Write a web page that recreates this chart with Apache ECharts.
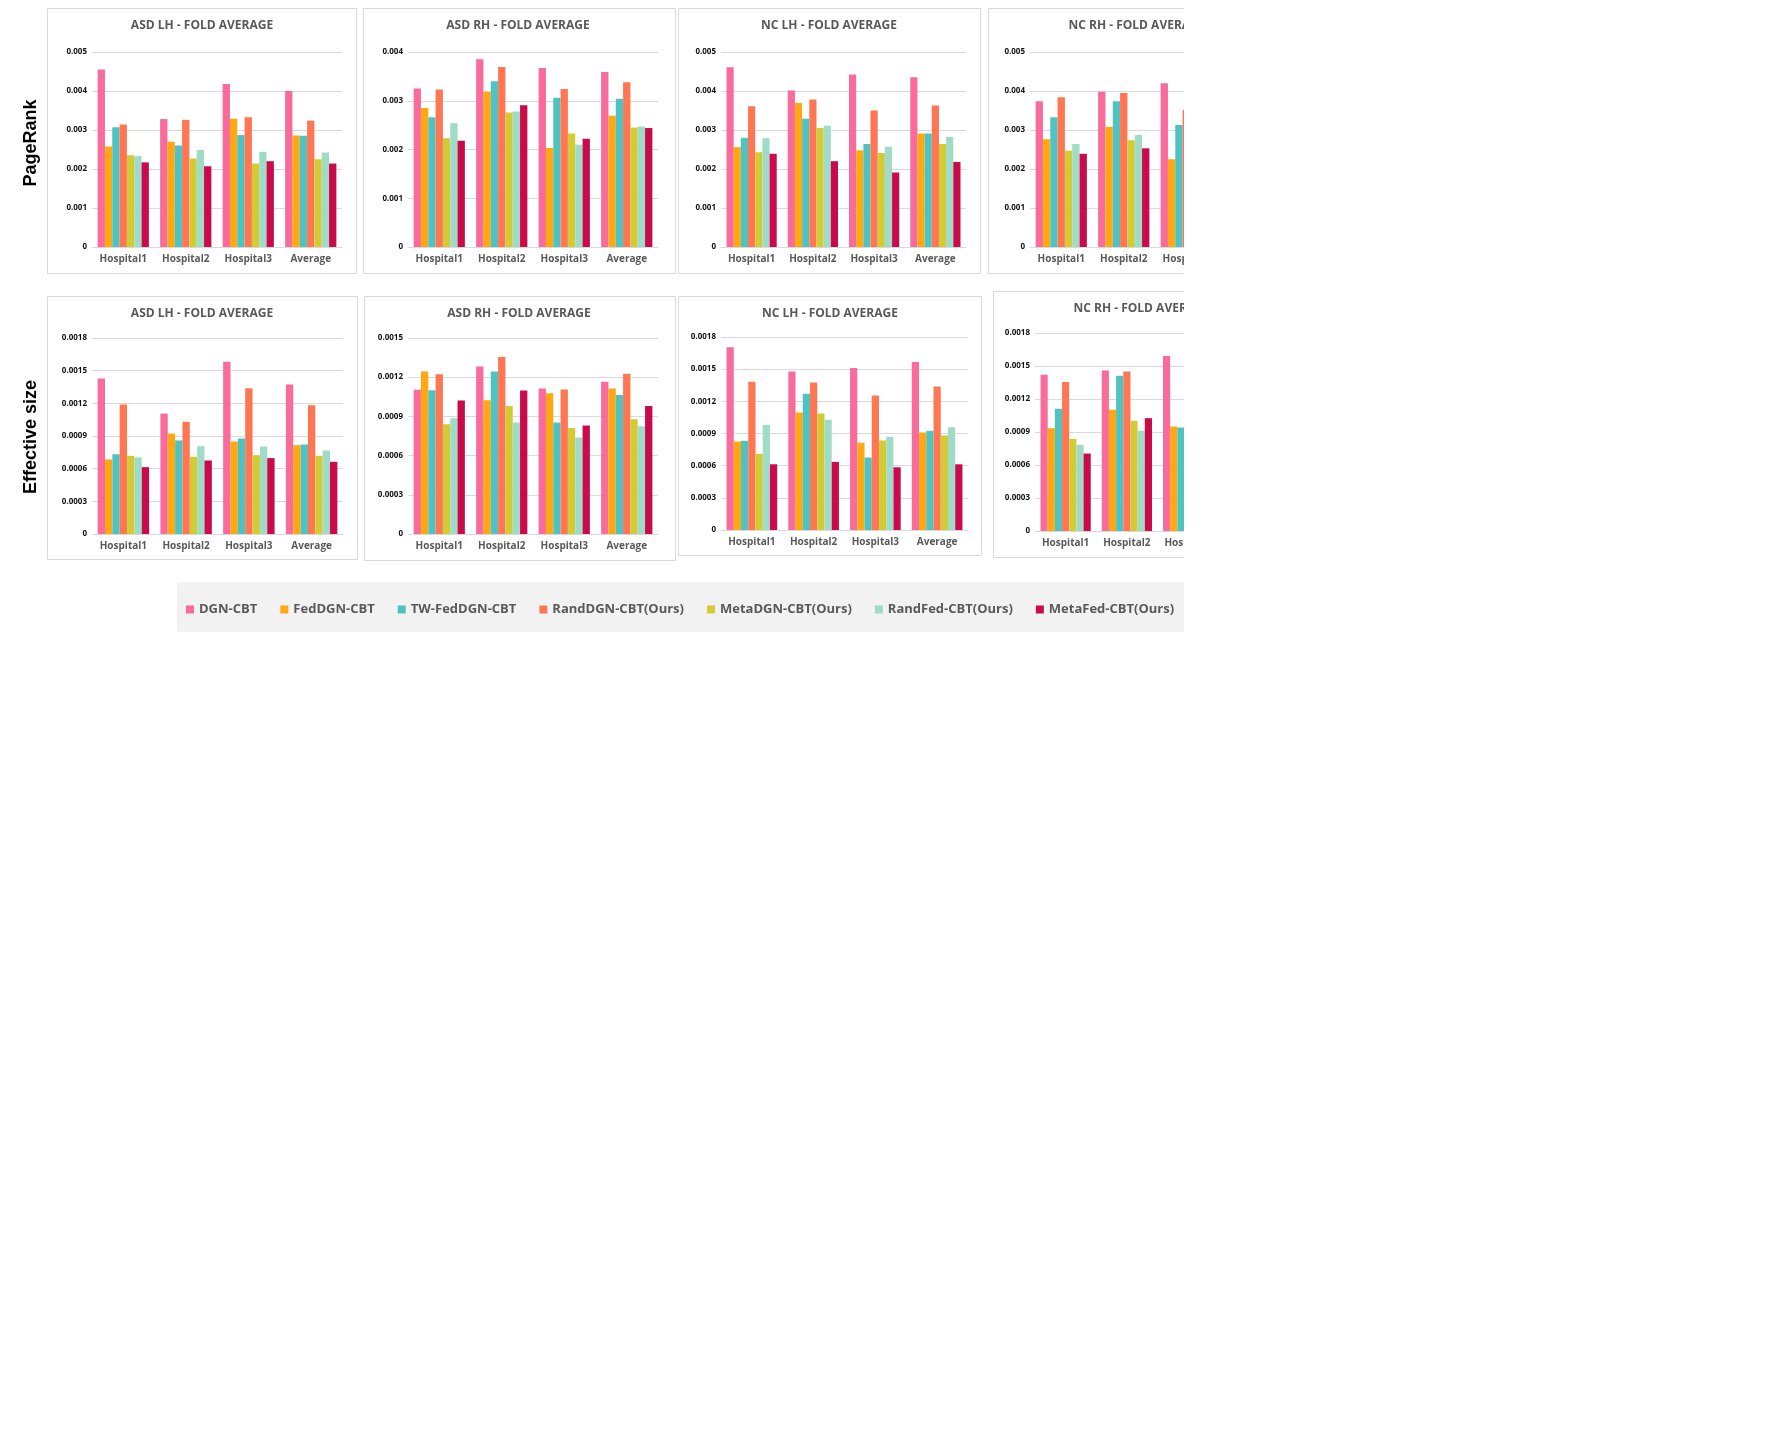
<!DOCTYPE html>
<html>
<head>
<meta charset="utf-8">
<script src="https://cdn.jsdelivr.net/npm/echarts@6/dist/echarts.min.js"></script>
<style>
html, body { margin: 0; padding: 0; background: #fff; }
#clip { width: 1184px; height: 1433px; overflow: hidden; }
#chart { width: 1320px; height: 1433px; }
</style>
</head>
<body>
<div id="clip"><div id="chart"></div></div>
<script>
// categories / methods
var categories = ['Hospital1', 'Hospital2', 'Hospital3', 'Average'];
var methods = ['DGN-CBT', 'FedDGN-CBT', 'TW-FedDGN-CBT', 'RandDGN-CBT(Ours)', 'MetaDGN-CBT(Ours)', 'RandFed-CBT(Ours)', 'MetaFed-CBT(Ours)'];
var colors = ['#F86B9B', '#FFA812', '#4FC3C2', '#FF7653', '#D3CB36', '#9FDCC7', '#CA0B4B'];

// PageRank, one row per method (Hospital1, Hospital2, Hospital3, Average)
var prAsdLh = [
    [0.00455, 0.00328, 0.00418, 0.00400],
    [0.00258, 0.00270, 0.00329, 0.00286],
    [0.00307, 0.00260, 0.00287, 0.00285],
    [0.00314, 0.00326, 0.00333, 0.00324],
    [0.00235, 0.00227, 0.00214, 0.00225],
    [0.00233, 0.00249, 0.00244, 0.00242],
    [0.00217, 0.00207, 0.00220, 0.00214]
];
var prAsdRh = [
    [0.00325, 0.00385, 0.00367, 0.00359],
    [0.00285, 0.00319, 0.00203, 0.00269],
    [0.00266, 0.00340, 0.00306, 0.00304],
    [0.00323, 0.00369, 0.00324, 0.00338],
    [0.00223, 0.00276, 0.00233, 0.00245],
    [0.00254, 0.00278, 0.00210, 0.00247],
    [0.00218, 0.00291, 0.00222, 0.00244]
];
var prNcLh = [
    [0.00461, 0.00401, 0.00442, 0.00435],
    [0.00256, 0.00369, 0.00248, 0.00291],
    [0.00280, 0.00329, 0.00264, 0.00291],
    [0.00361, 0.00378, 0.00350, 0.00363],
    [0.00243, 0.00305, 0.00241, 0.00264],
    [0.00279, 0.00311, 0.00257, 0.00282],
    [0.00239, 0.00220, 0.00191, 0.00218]
];
var prNcRh = [
    [0.00374, 0.00398, 0.00420, 0.00397],
    [0.00276, 0.00308, 0.00225, 0.00270],
    [0.00333, 0.00374, 0.00313, 0.00340],
    [0.00384, 0.00395, 0.00351, 0.00377],
    [0.00247, 0.00274, 0.00250, 0.00257],
    [0.00264, 0.00287, 0.00260, 0.00270],
    [0.00239, 0.00253, 0.00220, 0.00237]
];

// Effective size
var esAsdLh = [
    [0.001427, 0.001106, 0.001583, 0.001372],
    [0.000685, 0.000923, 0.000850, 0.000816],
    [0.000733, 0.000859, 0.000877, 0.000822],
    [0.001189, 0.001030, 0.001339, 0.001183],
    [0.000718, 0.000709, 0.000724, 0.000718],
    [0.000703, 0.000807, 0.000804, 0.000767],
    [0.000614, 0.000675, 0.000697, 0.000663]
];
var esAsdRh = [
    [0.001103, 0.001281, 0.001113, 0.001166],
    [0.001243, 0.001024, 0.001077, 0.001113],
    [0.001100, 0.001243, 0.000853, 0.001064],
    [0.001222, 0.001355, 0.001105, 0.001227],
    [0.000840, 0.000980, 0.000812, 0.000879],
    [0.000886, 0.000853, 0.000738, 0.000825],
    [0.001021, 0.001098, 0.000830, 0.000980]
];
var esNcLh = [
    [0.001704, 0.001479, 0.001510, 0.001567],
    [0.000825, 0.001096, 0.000813, 0.000909],
    [0.000832, 0.001271, 0.000676, 0.000925],
    [0.001383, 0.001376, 0.001255, 0.001339],
    [0.000710, 0.001087, 0.000835, 0.000881],
    [0.000981, 0.001028, 0.000870, 0.000959],
    [0.000613, 0.000635, 0.000585, 0.000613]
];
var esNcRh = [
    [0.001421, 0.001460, 0.001591, 0.001490],
    [0.000935, 0.001102, 0.000950, 0.001000],
    [0.001111, 0.001412, 0.000941, 0.001150],
    [0.001354, 0.001451, 0.001123, 0.001310],
    [0.000838, 0.001002, 0.000900, 0.000910],
    [0.000783, 0.000911, 0.000850, 0.000850],
    [0.000704, 0.001026, 0.000750, 0.000830]
];

// axis ranges [max, interval]
var prRange = [0.005, 0.001];
var prRangeAsdRh = [0.004, 0.001];
var esRange = [0.0018, 0.0003];
var esRangeAsdRh = [0.0015, 0.0003];

// panel layout: box = panel frame, grid = plot area, tx = title centre
var panels = [
    { title: 'ASD LH - FOLD AVERAGE', data: prAsdLh, range: prRange, box: [47, 8, 309, 265], grid: [92, 52, 250, 195], tx: 202 },
    { title: 'ASD RH - FOLD AVERAGE', data: prAsdRh, range: prRangeAsdRh, box: [363, 8, 312, 265], grid: [408, 52, 250, 195], tx: 518 },
    { title: 'NC LH - FOLD AVERAGE', data: prNcLh, range: prRange, box: [678, 8, 302, 265], grid: [721, 52, 245, 195], tx: 829 },
    { title: 'NC RH - FOLD AVERAGE', data: prNcRh, range: prRange, box: [988, 8, 312, 265], grid: [1030, 52, 250, 195], tx: 1137 },
    { title: 'ASD LH - FOLD AVERAGE', data: esAsdLh, range: esRange, box: [47, 296, 310, 263], grid: [92, 338, 251, 196], tx: 202 },
    { title: 'ASD RH - FOLD AVERAGE', data: esAsdRh, range: esRangeAsdRh, box: [364, 296, 311, 264], grid: [408, 338, 250, 196], tx: 519 },
    { title: 'NC LH - FOLD AVERAGE', data: esNcLh, range: esRange, box: [678, 296, 303, 259], grid: [721, 337, 247, 193], tx: 830 },
    { title: 'NC RH - FOLD AVERAGE', data: esNcRh, range: esRange, box: [993, 291, 307, 266], grid: [1035, 333, 245, 198], tx: 1142 }
];

var font = 'Open Sans';
var grids = [], xAxes = [], yAxes = [], titles = [], series = [];
var graphics = [];

//灰色图例背景
graphics.push({
    type: 'rect', z: -10,
    shape: { x: 177, y: 582, width: 1140, height: 50 },
    style: { fill: '#f2f2f2' }
});

for (var i = 0; i < panels.length; i++) {
    var p = panels[i];
    graphics.push({
        type: 'rect', z: -5,
        shape: { x: p.box[0] + 0.5, y: p.box[1] + 0.5, width: p.box[2], height: p.box[3] },
        style: { fill: '#fff', stroke: '#d9d9d9', lineWidth: 1 }
    });
    grids.push({ left: p.grid[0], top: p.grid[1], width: p.grid[2], height: p.grid[3] });
    titles.push({
        text: p.title,
        left: p.tx - 5,
        top: p.box[1] + 6,
        textAlign: 'center',
        textStyle: { fontFamily: font, fontSize: 12, fontWeight: 'bold', color: '#595959', lineHeight: 14 }
    });
    xAxes.push({
        type: 'category', gridIndex: i, data: categories,
        axisLine: { lineStyle: { color: '#d9d9d9' } },
        axisTick: { show: false },
        axisLabel: { interval: 0, color: '#595959', fontFamily: font, fontSize: 10, fontWeight: 'bold', margin: 7 }
    });
    yAxes.push({
        type: 'value', gridIndex: i, min: 0, max: p.range[0], interval: p.range[1],
        axisLine: { show: false },
        axisTick: { show: false },
        splitLine: { lineStyle: { color: '#d9d9d9', width: 1 } },
        axisLabel: {
            color: '#111', fontFamily: font, fontSize: 8, fontWeight: 'bold', margin: 5,
            formatter: function (v) { return v === 0 ? '0' : String(parseFloat(v.toFixed(6))); }
        }
    });
    for (var m = 0; m < methods.length; m++) {
        series.push({
            type: 'bar', name: methods[m],
            xAxisIndex: i, yAxisIndex: i,
            data: p.data[m],
            barGap: '0%', barCategoryGap: '18%',
            itemStyle: { color: colors[m] }
        });
    }
}

// row labels
graphics.push({
    type: 'text', x: 31, y: 143, rotation: Math.PI / 2,
    style: { text: 'PageRank', fill: '#000', font: 'bold 18px "Liberation Sans", Arial', textAlign: 'center', textVerticalAlign: 'middle' }
});
graphics.push({
    type: 'text', x: 31, y: 437, rotation: Math.PI / 2,
    style: { text: 'Effective size', fill: '#000', font: 'bold 18px "Liberation Sans", Arial', textAlign: 'center', textVerticalAlign: 'middle' }
});

var option = {
    animation: false,
    backgroundColor: '#fff',
    title: titles,
    legend: {
        data: methods,
        left: 181, top: 598,
        icon: 'rect', itemWidth: 8, itemHeight: 8, itemGap: 23,
        selectedMode: false,
        textStyle: { fontFamily: font, fontSize: 13, fontWeight: 'bold', color: '#595959' }
    },
    grid: grids,
    xAxis: xAxes,
    yAxis: yAxes,
    graphic: graphics,
    series: series
};

var chart = echarts.init(document.getElementById('chart'));
chart.setOption(option);
</script>
</body>
</html>
